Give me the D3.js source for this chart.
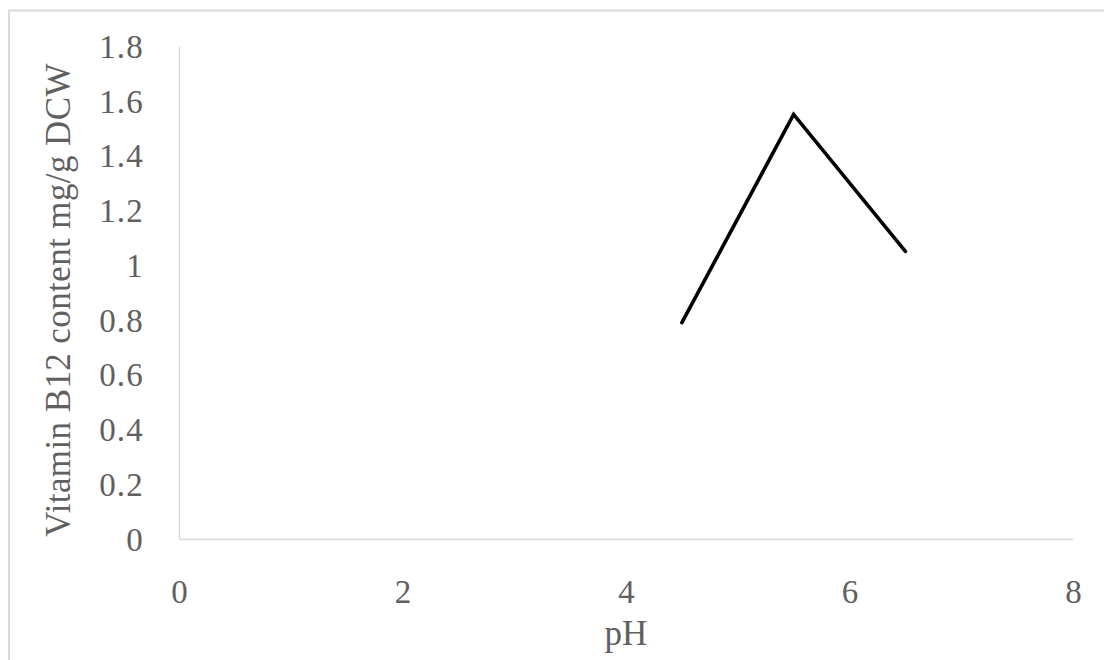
<!DOCTYPE html>
<html><head><meta charset="utf-8">
<script src="https://cdn.jsdelivr.net/npm/d3@7"></script>
<style>body{margin:0;background:#fff;} svg{display:block;}</style>
</head><body>
<script>
const phValues = [4.5, 5.5, 6.5];
const b12Values = [0.79, 1.55, 1.05];
const xTicks = [0, 2, 4, 6, 8];
const yTicks = [0, 0.2, 0.4, 0.6, 0.8, 1, 1.2, 1.4, 1.6, 1.8];
const xTitle = "pH";
const yTitle = "Vitamin B12 content mg/g DCW";

const W = 1104, H = 660;
const svg = d3.select("body").append("svg").attr("width", W).attr("height", H);
svg.append("rect").attr("x", 9).attr("y", 10.5).attr("width", 1200).attr("height", 800)
  .attr("fill", "#fff").attr("stroke", "#d9d9d9").attr("stroke-width", 2);

const x = d3.scaleLinear().domain([0, 8]).range([179, 1073]);
const y = d3.scaleLinear().domain([0, 1.8]).range([539, 46]);
const font = "'Liberation Serif', 'Times New Roman', serif";
const tc = "#606060";

const xAxis = svg.append("g").attr("transform", `translate(0,${y(0)})`)
  .call(d3.axisBottom(x).tickValues(xTicks).tickSize(0).tickPadding(0).tickFormat(d3.format("d")));
xAxis.select(".domain").attr("stroke", "#d9d9d9").attr("stroke-width", 1.5);
xAxis.selectAll("text").attr("y", 64).attr("dy", 0).attr("fill", tc)
  .style("font-family", font).style("font-size", "33px");

const yAxis = svg.append("g").attr("transform", `translate(${x(0)},0)`)
  .call(d3.axisLeft(y).tickValues(yTicks).tickSize(0).tickPadding(0).tickFormat(d => String(d)));
yAxis.select(".domain").attr("stroke", "#d9d9d9").attr("stroke-width", 1.5);
yAxis.selectAll("text").attr("x", -35).attr("dy", "0.34em").attr("fill", tc)
  .style("font-family", font).style("font-size", "33px").style("letter-spacing", "1.2px");

const line = d3.line().x((d, i) => x(phValues[i])).y(d => y(d));
svg.append("path").datum(b12Values).attr("d", line).attr("fill", "none")
  .attr("stroke", "#000").attr("stroke-width", 3.6).attr("stroke-linejoin", "miter").attr("stroke-linecap", "round");

svg.append("text").attr("x", x(4)).attr("y", 645).attr("text-anchor", "middle")
  .attr("fill", tc).style("font-family", font).style("font-size", "35px").text(xTitle);
svg.append("text").attr("transform", "translate(70,300) rotate(-90)").attr("text-anchor", "middle")
  .attr("fill", tc).style("font-family", font).style("font-size", "35px").style("letter-spacing", "0.4px").text(yTitle);
</script>
</body></html>
